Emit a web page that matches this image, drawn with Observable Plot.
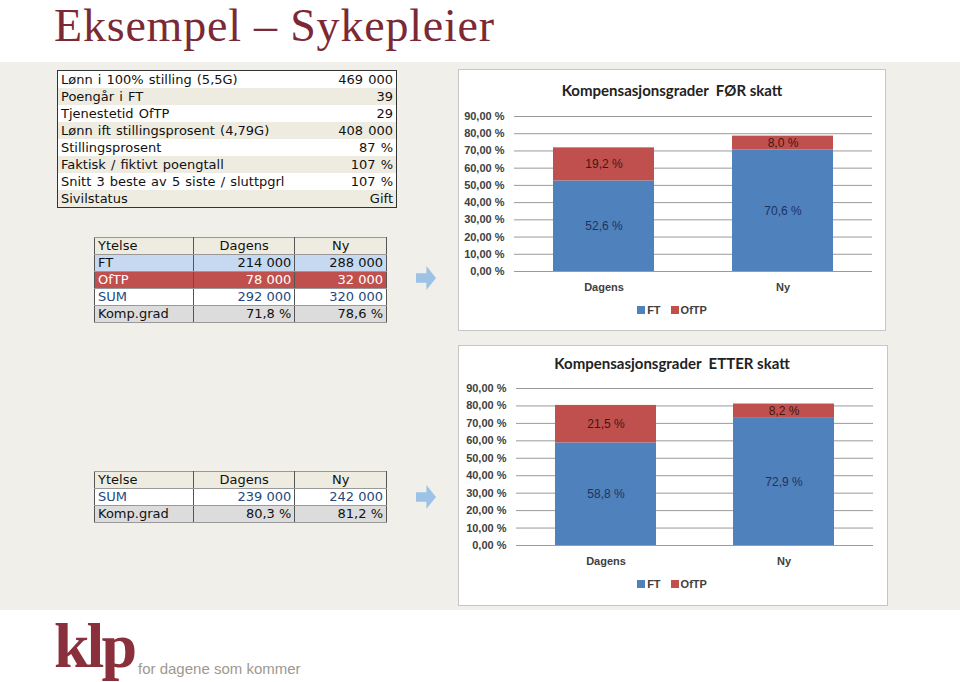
<!DOCTYPE html>
<html>
<head>
<meta charset="utf-8">
<script src="https://cdn.jsdelivr.net/npm/d3@7"></script>
<script src="https://cdn.jsdelivr.net/npm/@observablehq/plot@0.6"></script>
<style>
  body { margin: 0; background: #fff; }
  #page { position: relative; width: 960px; height: 682px; overflow: hidden; background: #fff; font-family: "DejaVu Sans", Verdana, sans-serif; }
  #band { position: absolute; left: 0; top: 62px; width: 960px; height: 548px; background: #f1efea; }
  #title { position: absolute; left: 54px; top: 0px; font-family: "Liberation Serif", "Times New Roman", serif; font-size: 46px; letter-spacing: 0.8px; line-height: 51px; color: #7b2a35; white-space: nowrap; }
  table.t { position: absolute; border-collapse: collapse; font-size: 13px; color: #111; }
  table.t td { height: 16px; line-height: 16px; padding: 0 3px; white-space: nowrap; }
  #info { left: 57px; top: 70px; width: 340px; border: 1.5px solid #333; word-spacing: 1px; }
  #info td { height: 17px; line-height: 17px; }
  #info td.v { text-align: right; }
  #info tr:nth-child(even) td { background: #eeece1; }
  #info tr:nth-child(odd) td { background: #fff; }
  table.y { width: 293px; border: 1.5px solid #333; }
  table.y td { border: 1px solid #555; border-top-color: #999; border-bottom-color: #999; }
  table.y td.c1 { width: 93px; }
  table.y td.c2 { width: 96px; text-align: right; }
  table.y td.c3 { width: 86px; text-align: right; }
  table.y tr.h td { background: #eeece1; }
  table.y tr.h td.c2, table.y tr.h td.c3 { text-align: center; }
  table.y tr.ft td { background: #c6d9f0; }
  table.y tr.of td { background: #c0504d; color: #fff; }
  table.y tr.sum td { background: #fff; color: #1f497d; }
  table.y tr.kg td { background: #dcdcdc; }
  #yt1 { left: 94px; top: 237px; }
  #yt2 { left: 94px; top: 471px; }
  .arrow { position: absolute; width: 20px; height: 24px; background: #9cc2e5;
           clip-path: polygon(0 30%, 52% 30%, 52% 0, 100% 50%, 52% 100%, 52% 70%, 0 70%); }
  .box { position: absolute; background: #fff; border: 1px solid #c6c6c6; box-sizing: border-box; }
  .ctitle { position: absolute; width: 428px; text-align: center; font-family: Lato, "Open Sans", sans-serif; font-weight: bold; font-size: 15px; color: #222; white-space: pre; }
  .chart { position: absolute; }
  .legend { position: absolute; width: 428px; text-align: center; font-family: "Liberation Sans", Arial, sans-serif; font-weight: bold; font-size: 11px; color: #404040; }
  .legend span.sw { display: inline-block; width: 8px; height: 8px; margin-right: 2px; vertical-align: 0px; }
  .legend span.it { margin: 0 5px; }
  #klp { position: absolute; left: 54px; top: 614px; font-family: "Liberation Serif", serif; font-weight: bold; font-size: 64px; line-height: 64px; color: #8a2f3c; letter-spacing: -3px; }
  #slogan { position: absolute; left: 138px; top: 659px; font-family: "Liberation Sans", sans-serif; font-size: 15px; line-height: 20px; color: #9e9891; }
</style>
</head>
<body>
<div id="page">
  <div id="band"></div>
  <div id="title">Eksempel – Sykepleier</div>
  <table class="t" id="info"></table>
  <table class="t y" id="yt1"></table>
  <table class="t y" id="yt2"></table>
  <div class="arrow" style="left:416px; top:266px;"></div>
  <div class="arrow" style="left:416px; top:485px;"></div>
  <div class="box" style="left:458px; top:69px; width:428px; height:262px;"></div>
  <div class="box" style="left:458px; top:345px; width:430px; height:261px;"></div>
  <div class="ctitle" id="t1" style="left:458px; top:81px;"></div>
  <div class="ctitle" id="t2" style="left:458px; top:354px;"></div>
  <div class="chart" id="c1" style="left:458px; top:100px;"></div>
  <div class="chart" id="c2" style="left:458px; top:375px;"></div>
  <div class="legend" id="l1" style="left:458px; top:304px;"></div>
  <div class="legend" id="l2" style="left:458px; top:578px;"></div>
  <div id="klp">klp</div>
  <div id="slogan">for dagene som kommer</div>
</div>
<script>
// ---- Data ----
const infoLabels = ["Lønn i 100% stilling (5,5G)", "Poengår i FT", "Tjenestetid OfTP", "Lønn ift stillingsprosent (4,79G)", "Stillingsprosent", "Faktisk / fiktivt poengtall", "Snitt 3 beste av 5 siste / sluttpgrl", "Sivilstatus"];
const infoValues = ["469 000", "39", "29", "408 000", "87 %", "107 %", "107 %", "Gift"];

const tableHeader = ["Ytelse", "Dagens", "Ny"];
const forRows = ["FT", "OfTP", "SUM", "Komp.grad"];
const forDagens = ["214 000", "78 000", "292 000", "71,8 %"];
const forNy = ["288 000", "32 000", "320 000", "78,6 %"];
const etterRows = ["SUM", "Komp.grad"];
const etterDagens = ["239 000", "80,3 %"];
const etterNy = ["242 000", "81,2 %"];

const categories = ["Dagens", "Ny"];
const series = ["FT", "OfTP"];
const seriesColors = ["#4f81bd", "#c0504d"];
const ftFor = [52.6, 70.6];
const oftpFor = [19.2, 8.0];
const ftEtter = [58.8, 72.9];
const oftpEtter = [21.5, 8.2];
const yTicks = [0, 10, 20, 30, 40, 50, 60, 70, 80, 90];
const chartTitles = ["Kompensasjonsgrader  FØR skatt", "Kompensasjonsgrader  ETTER skatt"];

// ---- Tables ----
const info = document.getElementById("info");
infoLabels.forEach((lab, i) => {
  const tr = info.insertRow();
  tr.insertCell().textContent = lab;
  const v = tr.insertCell(); v.textContent = infoValues[i]; v.className = "v";
});
const rowClass = {"FT": "ft", "OfTP": "of", "SUM": "sum", "Komp.grad": "kg"};
function fillTable(el, rows, dag, ny) {
  const h = el.insertRow(); h.className = "h";
  tableHeader.forEach((t, j) => { const c = h.insertCell(); c.textContent = t; c.className = "c" + (j + 1); });
  rows.forEach((r, i) => {
    const tr = el.insertRow(); tr.className = rowClass[r];
    [r, dag[i], ny[i]].forEach((t, j) => { const c = tr.insertCell(); c.textContent = t; c.className = "c" + (j + 1); });
  });
}
fillTable(document.getElementById("yt1"), forRows, forDagens, forNy);
fillTable(document.getElementById("yt2"), etterRows, etterDagens, etterNy);

// ---- Charts ----
const fmtAxis = d => d.toFixed(2).replace(".", ",") + " %";
const fmtLabel = d => d.toFixed(1).replace(".", ",") + " %";
const labelColors = {"FT": "#1f3260", "OfTP": "#401616"};

function makeChart(ft, oftp, m) {
  const rows = [];
  categories.forEach((c, i) => {
    rows.push({kategori: c, serie: series[0], verdi: ft[i]});
    rows.push({kategori: c, serie: series[1], verdi: oftp[i]});
  });
  const labelMarks = series.map(s => Plot.text(rows, Plot.stackY({
    x: "kategori", y: "verdi", z: "serie",
    text: d => d.serie === s ? fmtLabel(d.verdi) : null,
    fill: labelColors[s], fontSize: 12, fontFamily: "Liberation Sans, Arial, sans-serif"
  })));
  return Plot.plot({
    width: 428, height: 200,
    marginTop: m.mt, marginBottom: m.mb, marginLeft: m.ml, marginRight: m.mr,
    style: {fontFamily: "Liberation Sans, Arial, sans-serif", fontSize: "11px", background: "transparent", overflow: "visible"},
    x: {domain: categories, paddingInner: 0.433, paddingOuter: 0.216, label: null},
    y: {domain: [0, 90], label: null},
    color: {domain: series, range: seriesColors},
    marks: [
      Plot.gridY(yTicks, {stroke: "#9a9a9a", strokeOpacity: 1, strokeWidth: 1}),
      Plot.barY(rows, {x: "kategori", y: "verdi", fill: "serie"}),
      ...labelMarks,
      Plot.axisY(yTicks, {tickSize: 0, tickPadding: 10, tickFormat: fmtAxis, fontWeight: "bold", fill: "#404040", label: null}),
      Plot.axisX({tickSize: 0, tickPadding: 12, fontWeight: "bold", fill: "#404040", label: null})
    ]
  });
}

document.getElementById("c1").appendChild(makeChart(ftFor, oftpFor, {mt: 16, mb: 29, ml: 56, mr: 14}));
document.getElementById("c2").appendChild(makeChart(ftEtter, oftpEtter, {mt: 13, mb: 30, ml: 58, mr: 13}));
document.getElementById("t1").textContent = chartTitles[0];
document.getElementById("t2").textContent = chartTitles[1];

function legend(el) {
  el.innerHTML = series.map((s, i) =>
    `<span class="it"><span class="sw" style="background:${seriesColors[i]}"></span>${s}</span>`).join("");
}
legend(document.getElementById("l1"));
legend(document.getElementById("l2"));
</script>
</body>
</html>
